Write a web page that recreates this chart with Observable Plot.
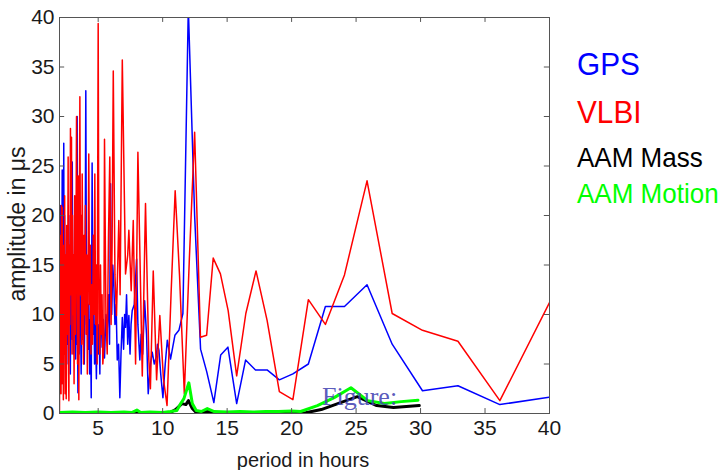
<!DOCTYPE html>
<html><head><meta charset="utf-8">
<script src="https://cdn.jsdelivr.net/npm/d3@7"></script>
<script src="https://cdn.jsdelivr.net/npm/@observablehq/plot@0.6"></script>
<style>
html,body{margin:0;padding:0;background:#fff;}
#wrap{position:relative;width:725px;height:470px;overflow:hidden;}
#over{position:absolute;left:0;top:0;pointer-events:none;}
</style></head><body><div id="wrap"></div>
<script>
const xTicks = [5, 10, 15, 20, 25, 30, 35, 40];
const yTicks = [0, 5, 10, 15, 20, 25, 30, 35, 40];
const seriesNames = ["GPS", "VLBI", "AAM Mass", "AAM Motion"];
const seriesColors = ["#0000ff", "#ff0000", "#000000", "#00ff00"];
const xLabel = "period in hours";
const yLabel = "amplitude in μs";

// [period in hours, amplitude in μs]
const gps = [[2.00,17.7],[2.03,4.0],[2.06,21.0],[2.09,6.5],[2.12,16.0],[2.15,3.0],[2.18,12.0],[2.21,24.6],[2.24,8.0],[2.27,18.0],[2.30,4.5],[2.33,27.3],[2.36,6.0],[2.39,20.0],[2.42,9.0],[2.45,15.0],[2.48,2.5],[2.52,11.0],[2.56,18.5],[2.60,7.0],[2.64,14.0],[2.68,5.0],[2.72,20.0],[2.76,9.5],[2.80,16.0],[2.84,4.0],[2.88,12.5],[2.92,19.0],[2.96,7.5],[2.99,25.4],[3.03,10.0],[3.07,6.0],[3.11,15.0],[3.15,8.0],[3.20,21.0],[3.25,5.5],[3.30,12.0],[3.34,7.0],[3.37,30.0],[3.40,9.0],[3.43,2.1],[3.47,11.0],[3.52,6.0],[3.57,14.0],[3.63,10.4],[3.68,4.0],[3.74,13.0],[3.80,7.5],[3.86,17.0],[3.92,5.0],[3.98,12.0],[4.04,32.6],[4.10,9.0],[4.16,15.0],[4.22,6.5],[4.28,11.0],[4.34,4.0],[4.40,9.5],[4.46,1.6],[4.53,25.3],[4.60,8.0],[4.66,12.0],[4.72,5.0],[4.79,9.0],[4.86,3.5],[4.93,10.0],[5.00,6.0],[5.07,9.0],[5.13,4.0],[5.18,11.7],[5.31,6.7],[5.40,9.5],[5.49,5.6],[5.60,10.0],[5.70,8.4],[5.80,12.0],[5.88,7.0],[5.96,23.2],[6.05,10.0],[6.13,15.0],[6.21,13.1],[6.30,9.0],[6.39,11.0],[6.48,5.4],[6.58,7.0],[6.68,1.6],[6.77,6.0],[6.87,9.7],[6.97,6.5],[7.05,10.0],[7.12,8.7],[7.20,12.0],[7.29,7.0],[7.38,9.9],[7.47,6.0],[7.55,9.0],[7.64,10.4],[7.80,11.0],[7.98,15.6],[8.08,9.0],[8.23,5.4],[8.33,8.0],[8.45,6.0],[8.60,11.4],[8.75,8.0],[8.88,2.0],[9.05,5.0],[9.19,6.2],[9.35,5.0],[9.50,5.7],[9.60,7.0],[9.71,6.4],[9.85,4.0],[10.02,1.6],[10.20,5.0],[10.36,7.4],[10.61,5.5],[10.95,7.9],[11.26,8.4],[11.57,10.1],[11.99,41],[12.48,20],[12.94,6.5],[13.42,4.2],[13.97,1.1],[14.50,5.9],[15.06,6.7],[15.74,1.0],[16.43,5.4],[17.20,4.4],[18.10,4.4],[19.05,3.4],[20.10,4.0],[21.30,5.0],[22.62,10.8],[24.10,10.8],[25.85,13.0],[27.80,7.0],[30.15,2.3],[32.90,2.8],[36.15,0.9],[40.0,1.65]];

const vlbi = [[2.00,0.3],[2.03,12],[2.06,4],[2.09,18],[2.12,2],[2.15,21],[2.18,9],[2.21,20.8],[2.24,3],[2.27,14],[2.30,1.4],[2.33,17],[2.36,6],[2.40,22],[2.44,2],[2.48,16],[2.52,1.5],[2.56,19],[2.60,8],[2.64,14],[2.67,25.9],[2.70,4],[2.73,1.3],[2.76,17],[2.80,9],[2.85,28.8],[2.89,12],[2.93,27.9],[2.97,6],[3.01,20],[3.05,10],[3.09,16],[3.13,3],[3.18,22],[3.23,8],[3.28,18],[3.32,30.0],[3.36,14],[3.40,5],[3.45,24],[3.50,1.4],[3.54,19],[3.58,32.0],[3.63,12],[3.68,20],[3.72,7],[3.76,24.2],[3.81,15],[3.86,5],[3.91,18],[3.96,10],[4.01,21],[4.06,8],[4.11,16],[4.16,4],[4.21,13],[4.27,26.2],[4.33,11],[4.39,17],[4.44,6],[4.50,13],[4.56,7],[4.62,18],[4.68,10],[4.74,24.2],[4.80,9],[4.86,15],[4.92,5],[5.00,39.4],[5.06,10],[5.12,6],[5.18,15],[5.24,8],[5.30,12],[5.36,5],[5.44,6.7],[5.49,27.7],[5.60,10],[5.70,6],[5.80,18],[5.90,25.9],[6.00,9],[6.08,17],[6.17,34.6],[6.30,14],[6.42,9.9],[6.60,19.5],[6.70,12],[6.87,35.7],[7.12,14.1],[7.29,16],[7.38,18.5],[7.56,12.4],[7.72,19.5],[7.90,5.0],[8.08,26.4],[8.42,3.8],[8.67,21.2],[8.93,5.4],[9.05,2.5],[9.27,14.4],[9.53,3.4],[9.78,9.9],[10.06,3.5],[10.34,0.8],[10.65,12],[10.97,22.5],[11.31,13.9],[11.68,2.0],[12.07,15.6],[12.48,28.4],[12.93,7.7],[13.41,7.9],[13.92,15.7],[14.48,14.1],[15.08,10.4],[15.74,3.8],[16.45,10.1],[17.24,14.4],[18.10,9.4],[19.05,2.2],[20.10,1.4],[21.30,11.5],[22.62,9.0],[24.10,14.0],[25.85,23.5],[27.80,10.1],[30.15,8.4],[32.90,7.3],[36.15,1.3],[40.0,11.2]];

const aamMass = [[2.0,0.05],[4.0,0.05],[6.0,0.05],[8.0,0.1],[10.0,0.05],[10.6,0.1],[11.0,0.4],[11.5,1.0],[11.8,0.9],[12.0,1.3],[12.3,0.5],[12.6,0.1],[13.5,0.2],[14.0,0.1],[16.0,0.05],[18.0,0.05],[20.0,0.1],[21.0,0.05],[22.3,0.4],[23.8,1.1],[25.1,1.7],[26.6,0.8],[27.9,0.6],[29.9,0.8]];

const aamMotion = [[2.0,0.1],[3.0,0.15],[4.0,0.1],[5.0,0.15],[6.0,0.1],[7.0,0.15],[7.6,0.1],[8.0,0.35],[8.3,0.1],[9.0,0.15],[10.0,0.1],[10.6,0.2],[11.1,0.3],[11.4,1.0],[11.65,1.5],[12.03,3.1],[12.3,1.0],[12.6,0.3],[13.0,0.2],[13.46,0.5],[14.0,0.2],[15.0,0.15],[16.0,0.2],[17.0,0.15],[18.0,0.2],[19.0,0.2],[20.0,0.25],[20.7,0.2],[22.0,0.8],[23.3,1.6],[24.6,2.6],[25.9,1.3],[27.2,1.0],[28.5,1.2],[29.8,1.35]];

const series = [gps, vlbi, aamMass, aamMotion];
const widths = [1.5, 1.5, 3, 3];

const axisColor = "#555";
const plot = Plot.plot({
  width: 725, height: 470,
  marginTop: 17, marginBottom: 57, marginLeft: 59, marginRight: 176,
  x: {domain: [2, 40]},
  y: {domain: [0, 40]},
  style: {fontFamily: "'Liberation Sans', Arial, sans-serif", fontSize: "21px", color: "#1a1a1a", background: "white"},
  marks: [
    ...series.map((s, i) => Plot.line(s, {x: d => d[0], y: d => d[1], stroke: seriesColors[i], strokeWidth: widths[i], clip: true, strokeLinejoin: "round"})),
    Plot.frame({stroke: axisColor}),
    Plot.ruleX(xTicks, {x: d => d, y1: 0, y2: 0.5, stroke: axisColor}),
    Plot.ruleX(xTicks, {x: d => d, y1: 40, y2: 39.5, stroke: axisColor}),
    Plot.ruleY(yTicks, {y: d => d, x1: 2, x2: 2.4, stroke: axisColor}),
    Plot.ruleY(yTicks, {y: d => d, x1: 40, x2: 39.6, stroke: axisColor}),
    Plot.axisX({ticks: xTicks, tickSize: 0, tickPadding: 7, label: null}),
    Plot.axisY({ticks: yTicks, tickSize: 0, tickPadding: 5, label: null})
  ]
});
const wrap = document.getElementById("wrap");
wrap.appendChild(plot);

// overlay texts: legend, axis labels, stray "Figure:" caption
const ns = "http://www.w3.org/2000/svg";
const over = document.createElementNS(ns, "svg");
over.setAttribute("id", "over");
over.setAttribute("width", 725);
over.setAttribute("height", 470);
wrap.appendChild(over);
function txt(str, attrs) {
  const t = document.createElementNS(ns, "text");
  for (const k in attrs) t.setAttribute(k, attrs[k]);
  t.textContent = str;
  over.appendChild(t);
  return t;
}
const legBase = [75, 123, 167, 203];
const legSize = [32, 32, 28, 28];
seriesNames.forEach((n, i) => {
  txt(n, {x: 0, y: 0, transform: `translate(577,${legBase[i]}) scale(0.93,1)`, fill: seriesColors[i],
    "font-family": "'Liberation Sans', Arial, sans-serif", "font-size": legSize[i]});
});
txt(xLabel, {x: 303, y: 467, "text-anchor": "middle", fill: "#1a1a1a", "font-family": "'Liberation Sans', Arial, sans-serif", "font-size": 20});
txt(yLabel, {transform: "translate(25,224) rotate(-90)", "text-anchor": "middle", fill: "#1a1a1a", "font-family": "'Liberation Sans', Arial, sans-serif", "font-size": 23});
txt("Figure:", {x: 322, y: 405, fill: "#4646b4", "fill-opacity": 0.9, "font-family": "'Liberation Serif', 'DejaVu Serif', serif", "font-size": 26});
</script>
</body></html>
